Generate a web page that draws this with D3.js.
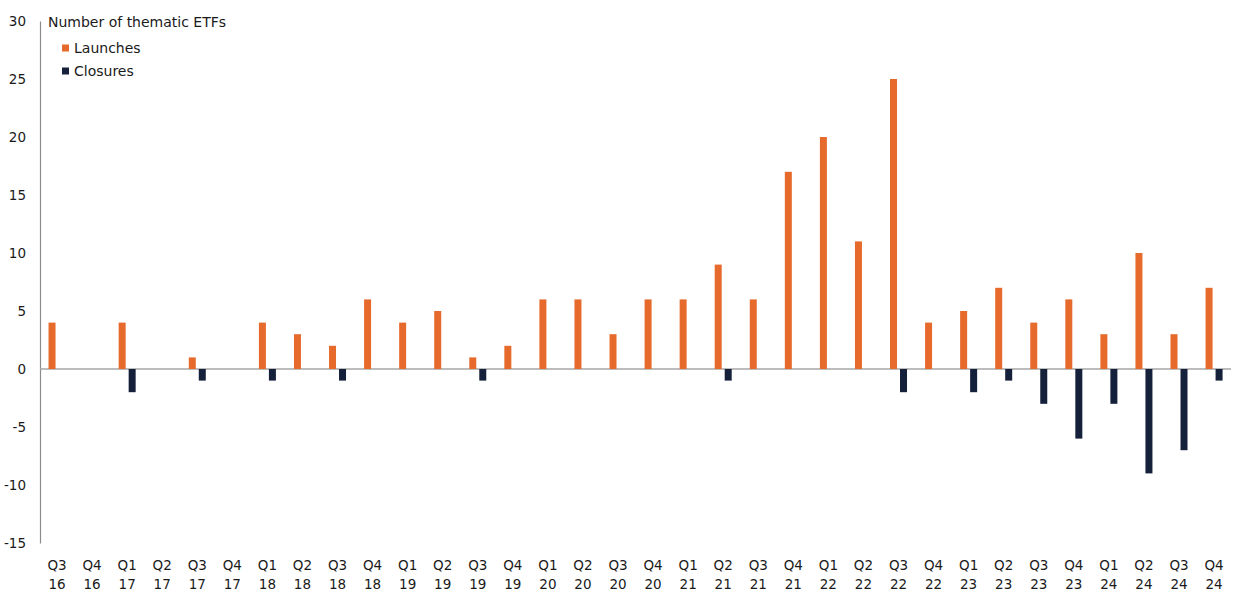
<!DOCTYPE html>
<html><head><meta charset="utf-8">
<script src="https://cdn.jsdelivr.net/npm/d3@7"></script>
<style>body{margin:0;background:#fff;} text{font-family:"DejaVu Sans",Verdana,sans-serif;fill:#1a1a1a;}</style>
</head><body>
<svg id="chart" width="1243" height="607"></svg>
<script>
const quarters = ["Q3","Q4","Q1","Q2","Q3","Q4","Q1","Q2","Q3","Q4","Q1","Q2","Q3","Q4","Q1","Q2","Q3","Q4","Q1","Q2","Q3","Q4","Q1","Q2","Q3","Q4","Q1","Q2","Q3","Q4","Q1","Q2","Q3","Q4"];
const years = ["16","16","17","17","17","17","18","18","18","18","19","19","19","19","20","20","20","20","21","21","21","21","22","22","22","22","23","23","23","23","24","24","24","24"];
const launches = [4,0,4,0,1,0,4,3,2,6,4,5,1,2,6,6,3,6,6,9,6,17,20,11,25,4,5,7,4,6,3,10,3,7];
const closures = [0,0,-2,0,-1,0,-1,0,-1,0,0,0,-1,0,0,0,0,0,0,-1,0,0,0,0,-2,0,-2,-1,-3,-6,-3,-9,-7,-1];
const yTicks = [-15,-10,-5,0,5,10,15,20,25,30];
const legendTitle = "Number of thematic ETFs";
const seriesNames = ["Launches","Closures"];
const colors = ["#E66A2C","#15213A"];

const svg = d3.select("#chart");
const cats = quarters.map((q,i)=>i);
const x = d3.scaleBand().domain(cats).range([39.5,1231.6]).padding(0);
const y = d3.scaleLinear().domain([-15,30]).range([543,21]);

// y axis
const yAxis = d3.axisLeft(y).tickValues(yTicks).tickSize(0).tickPadding(14).tickFormat(d=>String(d));
const gy = svg.append("g").attr("transform","translate(40,0)").call(yAxis);
gy.select(".domain").attr("stroke","#8c8c8c").attr("stroke-width",1.2);
gy.selectAll("text").style("font-size","13.5px").attr("fill","#1a1a1a");

// zero line
svg.append("line").attr("x1",40).attr("x2",1231).attr("y1",y(0)).attr("y2",y(0)).attr("stroke","#a6a6a6").attr("stroke-width",1.5);

// bars
const bw = 7;
svg.append("g").selectAll("rect").data(launches).join("rect")
  .attr("x",(d,i)=>x(i)+x.bandwidth()/2-8.5).attr("width",bw)
  .attr("y",d=>y(Math.max(0,d))).attr("height",d=>Math.abs(y(d)-y(0)))
  .attr("fill",colors[0]);
svg.append("g").selectAll("rect").data(closures).join("rect")
  .attr("x",(d,i)=>x(i)+x.bandwidth()/2+1.5).attr("width",bw)
  .attr("y",d=>y(Math.max(0,d))).attr("height",d=>Math.abs(y(d)-y(0)))
  .attr("fill",colors[1]);

// x labels
const gx = svg.append("g");
cats.forEach(i=>{
  const cx = x(i)+x.bandwidth()/2;
  const t = gx.append("text").attr("x",cx).attr("text-anchor","middle").style("font-size","13.5px");
  t.append("tspan").attr("x",cx).attr("y",570).text(quarters[i]);
  t.append("tspan").attr("x",cx).attr("y",589).text(years[i]);
});

// legend
svg.append("text").attr("x",48).attr("y",27).style("font-size","14px").text(legendTitle);
seriesNames.forEach((n,i)=>{
  const yy = 48 + i*23;
  svg.append("rect").attr("x",62).attr("y",yy-3.5).attr("width",7).attr("height",7).attr("fill",colors[i]);
  svg.append("text").attr("x",74).attr("y",yy+5).style("font-size","14px").text(n);
});
</script>
</body></html>
